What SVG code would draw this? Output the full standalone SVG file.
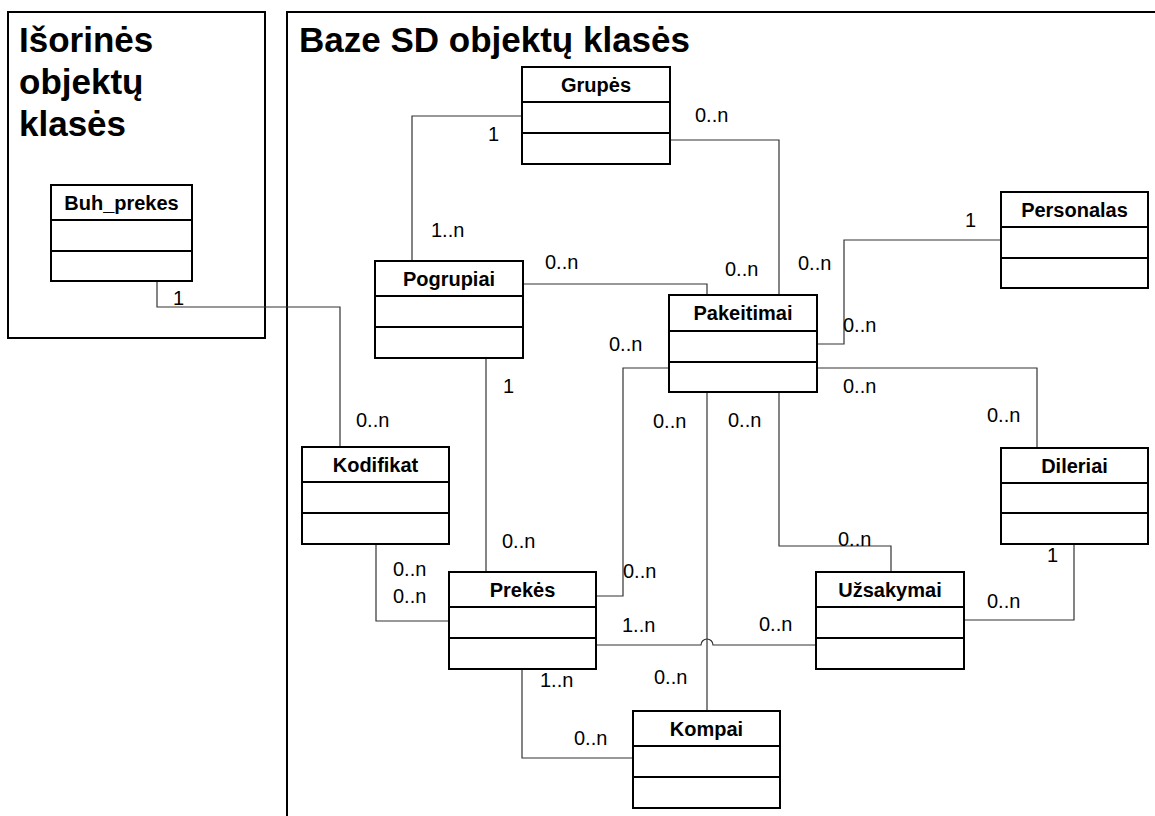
<svg xmlns="http://www.w3.org/2000/svg" width="1155" height="816" viewBox="0 0 1155 816">
<style>
.frame{fill:none;stroke:#000;stroke-width:2}
.box{fill:#fff;stroke:#000;stroke-width:2}
.div{stroke:#000;stroke-width:2}
.title{font-family:"Liberation Sans",Arial,sans-serif;font-weight:bold;font-size:35px;fill:#000}
.name{font-family:"Liberation Sans",Arial,sans-serif;font-weight:bold;font-size:20px;fill:#000;text-anchor:middle}
.lbl{font-family:"Liberation Sans",Arial,sans-serif;font-size:20px;fill:#000}
.conn{fill:none;stroke:#333;stroke-width:1.2}
</style>
<rect width="1155" height="816" fill="#fff"/>
<g id="frames">
<rect class="frame" x="8" y="12" width="257" height="326"/>
<path class="frame" d="M287 816 V12 H1156"/>
<text class="title" x="19" y="52">Išorinės</text>
<text class="title" x="19" y="94">objektų</text>
<text class="title" x="19" y="136">klasės</text>
<text class="title" x="299" y="52">Baze SD objektų klasės</text>
</g>
<g id="connectors">
<path class="conn" d="M157 281 V307 H340 V447"/>
<path class="conn" d="M522 116 H412 V261"/>
<path class="conn" d="M670 140 H779 V295"/>
<path class="conn" d="M523 284 H707 V295"/>
<path class="conn" d="M1001 240 H844 V344 H817"/>
<path class="conn" d="M817 368 H1037 V448"/>
<path class="conn" d="M779 392 V546 H891 V572"/>
<path class="conn" d="M669 368 H623 V596 H596"/>
<path class="conn" d="M707 392 V711"/>
<path class="conn" d="M596 645 H701 A6 6 0 0 1 713 645 H816"/>
<path class="conn" d="M522 669 V758 H633"/>
<path class="conn" d="M376 544 V621 H449"/>
<path class="conn" d="M486 358 V572"/>
<path class="conn" d="M964 620 H1074 V544"/>
</g>
<g id="labels">
<text class="lbl" x="173" y="305">1</text>
<text class="lbl" x="356" y="427">0..n</text>
<text class="lbl" x="488" y="141">1</text>
<text class="lbl" x="431" y="237">1..n</text>
<text class="lbl" x="695" y="122">0..n</text>
<text class="lbl" x="725" y="276">0..n</text>
<text class="lbl" x="545" y="269">0..n</text>
<text class="lbl" x="798" y="270">0..n</text>
<text class="lbl" x="965" y="227">1</text>
<text class="lbl" x="843" y="332">0..n</text>
<text class="lbl" x="843" y="393">0..n</text>
<text class="lbl" x="987" y="422">0..n</text>
<text class="lbl" x="728" y="427">0..n</text>
<text class="lbl" x="838" y="546">0..n</text>
<text class="lbl" x="609" y="351">0..n</text>
<text class="lbl" x="653" y="428">0..n</text>
<text class="lbl" x="623" y="578">0..n</text>
<text class="lbl" x="654" y="684">0..n</text>
<text class="lbl" x="622" y="632">1..n</text>
<text class="lbl" x="759" y="631">0..n</text>
<text class="lbl" x="540" y="687">1..n</text>
<text class="lbl" x="574" y="745">0..n</text>
<text class="lbl" x="393" y="576">0..n</text>
<text class="lbl" x="393" y="603">0..n</text>
<text class="lbl" x="503" y="393">1</text>
<text class="lbl" x="502" y="548">0..n</text>
<text class="lbl" x="1047" y="562">1</text>
<text class="lbl" x="987" y="608">0..n</text>
</g>
<g id="Buh_prekes">
<rect class="box" x="51" y="185" width="141" height="96"/>
<line class="div" x1="51" y1="220" x2="192" y2="220"/>
<line class="div" x1="51" y1="251" x2="192" y2="251"/>
<text class="name" x="121.5" y="210">Buh_prekes</text>
</g>
<g id="Grupes">
<rect class="box" x="522" y="67" width="148" height="97"/>
<line class="div" x1="522" y1="102" x2="670" y2="102"/>
<line class="div" x1="522" y1="133" x2="670" y2="133"/>
<text class="name" x="596" y="92">Grupės</text>
</g>
<g id="Personalas">
<rect class="box" x="1001" y="192" width="147" height="96"/>
<line class="div" x1="1001" y1="227" x2="1148" y2="227"/>
<line class="div" x1="1001" y1="258" x2="1148" y2="258"/>
<text class="name" x="1074.5" y="217">Personalas</text>
</g>
<g id="Pogrupiai">
<rect class="box" x="375" y="261" width="148" height="97"/>
<line class="div" x1="375" y1="296" x2="523" y2="296"/>
<line class="div" x1="375" y1="327" x2="523" y2="327"/>
<text class="name" x="449" y="286">Pogrupiai</text>
</g>
<g id="Pakeitimai">
<rect class="box" x="669" y="295" width="148" height="97"/>
<line class="div" x1="669" y1="331" x2="817" y2="331"/>
<line class="div" x1="669" y1="362" x2="817" y2="362"/>
<text class="name" x="743" y="320">Pakeitimai</text>
</g>
<g id="Kodifikat">
<rect class="box" x="302" y="447" width="147" height="97"/>
<line class="div" x1="302" y1="482" x2="449" y2="482"/>
<line class="div" x1="302" y1="513" x2="449" y2="513"/>
<text class="name" x="375.5" y="472">Kodifikat</text>
</g>
<g id="Dileriai">
<rect class="box" x="1001" y="448" width="147" height="96"/>
<line class="div" x1="1001" y1="483" x2="1148" y2="483"/>
<line class="div" x1="1001" y1="513" x2="1148" y2="513"/>
<text class="name" x="1074.5" y="473">Dileriai</text>
</g>
<g id="Prekes">
<rect class="box" x="449" y="572" width="147" height="97"/>
<line class="div" x1="449" y1="607" x2="596" y2="607"/>
<line class="div" x1="449" y1="638" x2="596" y2="638"/>
<text class="name" x="522.5" y="597">Prekės</text>
</g>
<g id="Uzsakymai">
<rect class="box" x="816" y="572" width="148" height="97"/>
<line class="div" x1="816" y1="607" x2="964" y2="607"/>
<line class="div" x1="816" y1="638" x2="964" y2="638"/>
<text class="name" x="890" y="597">Užsakymai</text>
</g>
<g id="Kompai">
<rect class="box" x="633" y="711" width="147" height="97"/>
<line class="div" x1="633" y1="746" x2="780" y2="746"/>
<line class="div" x1="633" y1="777" x2="780" y2="777"/>
<text class="name" x="706.5" y="736">Kompai</text>
</g>
</svg>
